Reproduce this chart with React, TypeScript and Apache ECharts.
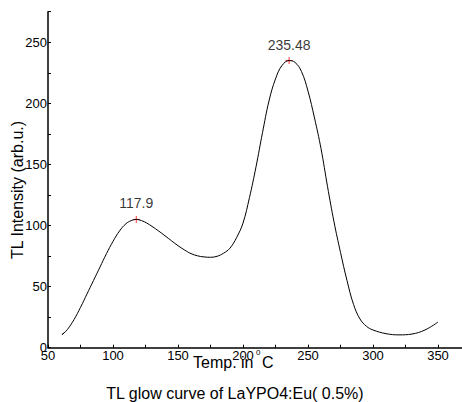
import React, { useEffect, useRef } from "react";
import * as echarts from "echarts";

const FONT = "'Liberation Sans', Arial, Helvetica, sans-serif";

// Temperature (°C) and TL intensity
const tempC = [
  62.2, 60.8, 65, 70, 75, 80, 85, 90, 95, 100, 105, 110, 114, 117.9, 122, 126, 130,
  135, 140, 145, 150, 155, 160, 165, 170, 175, 180, 185, 190, 195, 200, 205,
  210, 215, 220, 225, 230, 235.48, 240, 245, 250, 255, 260, 265, 270, 275,
  280, 285, 290, 295, 300, 310, 320, 330, 340, 350,
];
const intensity = [
  12.3, 10.6, 15, 23, 33, 44, 55, 66, 77, 87, 95.5, 101.5, 104, 105, 104, 102,
  99.3, 95.6, 91.6, 87.5, 83.5, 80, 77, 75.2, 74.3, 74, 74.8, 77.3, 81.5, 90, 102,
  123, 148, 176, 202, 220, 231, 235, 233.5, 226, 210, 188, 163, 132, 103, 78,
  55, 35.5, 23.5, 17.5, 14.5, 11.5, 10.5, 11.2, 14.5, 21,
];

// Marked peaks
const peakTemps = [117.9, 235.48];
const peakValues = [105, 235];

const chartTitle = "TL glow curve of LaYPO4:Eu( 0.5%)";
const yAxisName = "TL Intensity (arb.u.)";

export default function App() {
  const ref = useRef<HTMLDivElement>(null);
  useEffect(() => {
    if (!ref.current) return;
    const chart = echarts.init(ref.current, null, { renderer: "svg" });
    const option: any = {
      animation: false,
      grid: {
        left: 48,
        right: 0.5,
        top: 11.7,
        bottom: 54.3,
        containLabel: false,
        outerBoundsMode: "none",
      },
      xAxis: {
        type: "value",
        min: 50,
        max: 375,
        interval: 25,
        axisLine: { show: true, lineStyle: { color: "#000", width: 1.5 } },
        axisTick: { show: true, inside: true, length: 3, lineStyle: { color: "#000", width: 1 } },
        axisLabel: {
          margin: 1,
          fontSize: 13,
          color: "#000",
          fontFamily: FONT,
          formatter: (v: number) => (v % 50 === 0 ? String(v) : ""),
        },
        splitLine: { show: false },
      },
      yAxis: {
        type: "value",
        min: 0,
        max: 275,
        interval: 25,
        axisLine: { show: true, lineStyle: { color: "#000", width: 1.5 } },
        axisTick: { show: true, inside: true, length: 3, lineStyle: { color: "#000", width: 1 } },
        axisLabel: {
          margin: 1,
          fontSize: 13,
          color: "#000",
          fontFamily: FONT,
          formatter: (v: number) => (v % 50 === 0 && v <= 250 ? String(v) : ""),
        },
        splitLine: { show: false },
      },
      series: [
        {
          type: "line",
          data: tempC.map((t, i) => [t, intensity[i]]),
          showSymbol: false,
          smooth: 0.4,
          silent: true,
          lineStyle: { color: "#000", width: 1 },
        },
        {
          type: "scatter",
          data: peakTemps.map((t, i) => [t, peakValues[i]]),
          symbol: "path://M5,0V10M0,5H10",
          symbolSize: 7,
          silent: true,
          itemStyle: { color: "none", borderColor: "#ff0000", borderWidth: 1 },
          label: {
            show: true,
            position: "top",
            distance: 3,
            fontSize: 14,
            color: "#000",
            fontFamily: FONT,
            formatter: (p: any) => String(p.value[0]),
          },
        },
      ],
      graphic: [
        {
          type: "text",
          x: 17,
          y: 190,
          rotation: Math.PI / 2,
          style: { text: yAxisName, fontSize: 16, fontFamily: FONT, fill: "#000", align: "center", verticalAlign: "middle" },
        },
        {
          type: "text",
          x: 193,
          y: 362.5,
          style: { text: "Temp. in", fontSize: 16, fontFamily: FONT, fill: "#000", align: "left", verticalAlign: "middle" },
        },
        {
          type: "text",
          x: 256,
          y: 352.5,
          style: { text: "0", fontSize: 8, fontFamily: FONT, fill: "#000", align: "left", verticalAlign: "middle" },
        },
        {
          type: "text",
          x: 262,
          y: 362.5,
          style: { text: "C", fontSize: 16, fontFamily: FONT, fill: "#000", align: "left", verticalAlign: "middle" },
        },
        {
          type: "text",
          x: 235,
          y: 393,
          style: { text: chartTitle, fontSize: 16, fontFamily: FONT, fill: "#000", align: "center", verticalAlign: "middle" },
        },
      ],
    };
    chart.setOption(option);
    return () => chart.dispose();
  }, []);
  return (
    <div style={{ position: "absolute", left: 0, top: 0, width: 462, height: 402, overflow: "hidden", background: "#fff" }}>
      <div ref={ref} style={{ width: 471, height: 402 }} />
    </div>
  );
}
